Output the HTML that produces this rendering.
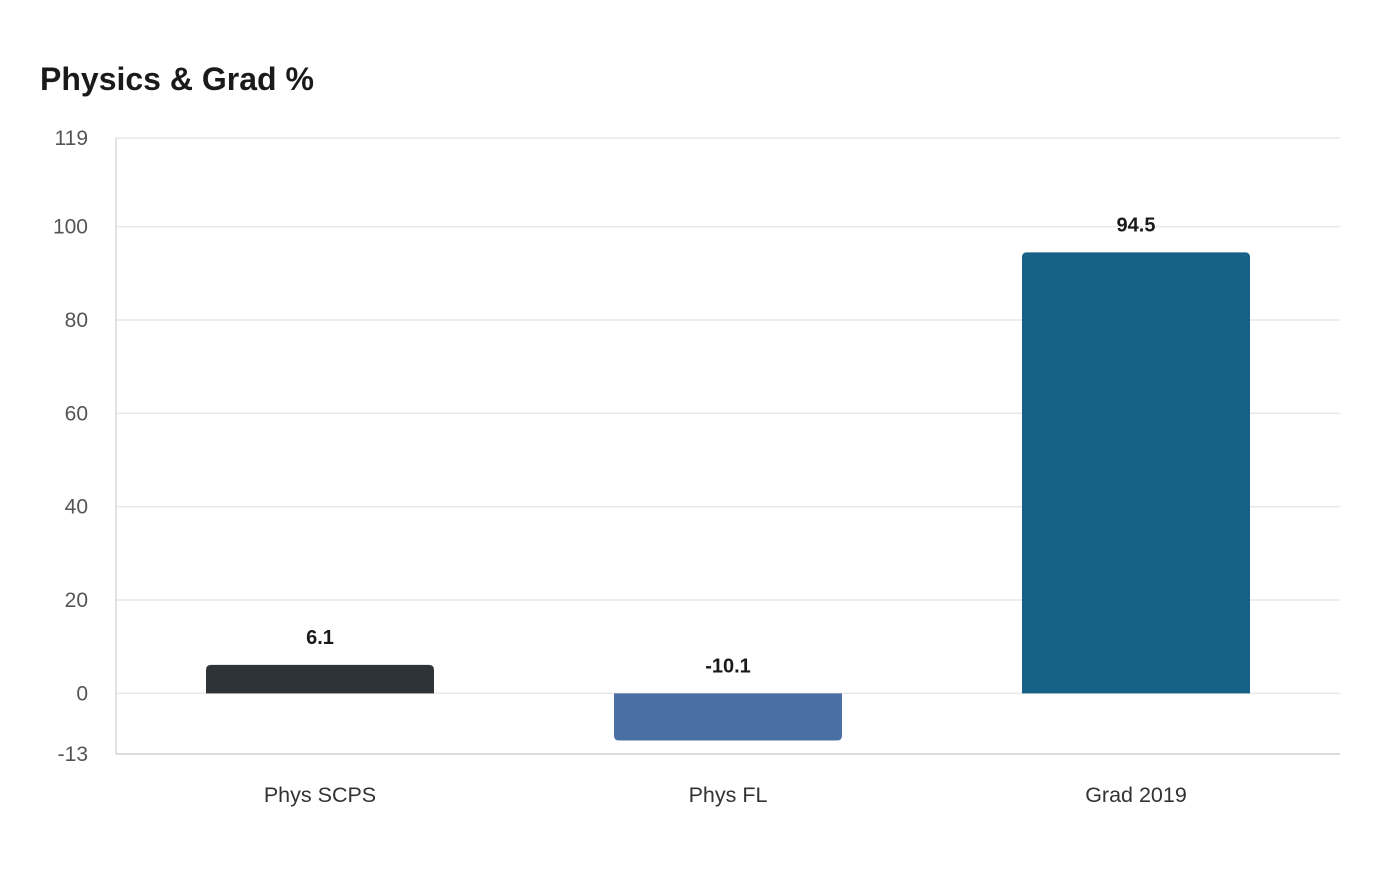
<!DOCTYPE html>
<html><head><meta charset="utf-8"><style>
body{margin:0;background:#fff;font-family:"Liberation Sans",sans-serif;}
</style></head><body>
<svg width="1400" height="880" xmlns="http://www.w3.org/2000/svg">
<text x="40" y="90" font-size="32" font-weight="bold" fill="#1a1a1a">Physics &amp; Grad %</text>
<g id="grid"></g><g id="bars"></g>
</svg>
<script>
const categories=["Phys SCPS","Phys FL","Grad 2019"];
const values=[6.1,-10.1,94.5];
const colors=["#2e3338","#4a6fa5","#176187"];
const ticks=[119,100,80,60,40,20,0,-13];
{
const yMin=-13,yMax=119,plotTop=138,plotBot=754,plotLeft=116,plotRight=1340;
const ns="http://www.w3.org/2000/svg";
const y=v=>plotBot-(v-yMin)/(yMax-yMin)*(plotBot-plotTop);
const band=(plotRight-plotLeft)/categories.length;
const g=document.getElementById('grid'),b=document.getElementById('bars');
function el(t,a,p){const e=document.createElementNS(ns,t);for(const k in a)e.setAttribute(k,a[k]);p.appendChild(e);return e;}
ticks.forEach(t=>{
 if(t!==yMin){const l=el('line',{x1:plotLeft,x2:plotRight,y1:y(t),y2:y(t),stroke:'#e8e8e8','stroke-width':1.5},g);
 
 }
 const tx=el('text',{x:88,y:y(t)+7,'text-anchor':'end','font-size':21,fill:'#555'},g);tx.textContent=t;
 
 
});
const ax=el('line',{x1:plotLeft,x2:plotLeft,y1:plotTop,y2:plotBot,stroke:'#d8d8d8','stroke-width':1.5},g);


const xb=el('line',{x1:plotLeft,x2:plotRight,y1:plotBot,y2:plotBot,stroke:'#d0d0d0','stroke-width':1.5},g);


const bw=228,r=5;
categories.forEach((c,i)=>{
 const cx=plotLeft+band*(i+0.5),x0=cx-bw/2,x1=cx+bw/2,y0=y(0),yv=y(values[i]);
 let d;
 if(values[i]>=0)d=`M${x0},${y0}V${yv+r}Q${x0},${yv} ${x0+r},${yv}H${x1-r}Q${x1},${yv} ${x1},${yv+r}V${y0}Z`;
 else d=`M${x0},${y0}V${yv-r}Q${x0},${yv} ${x0+r},${yv}H${x1-r}Q${x1},${yv} ${x1},${yv-r}V${y0}Z`;
 const p=el('path',{d:d,fill:colors[i]},b);
 
 
 const ly=(values[i]>=0?yv:y0)-28+7;
 const lt=el('text',{x:cx,y:ly,'text-anchor':'middle','font-size':20,'font-weight':'bold',fill:'#1a1a1a'},b);lt.textContent=values[i];
 
 
 const xt=el('text',{x:cx,y:802,'text-anchor':'middle','font-size':21.5,fill:'#333'},b);xt.textContent=c;
 
 
});
}
</script>
</body></html>
